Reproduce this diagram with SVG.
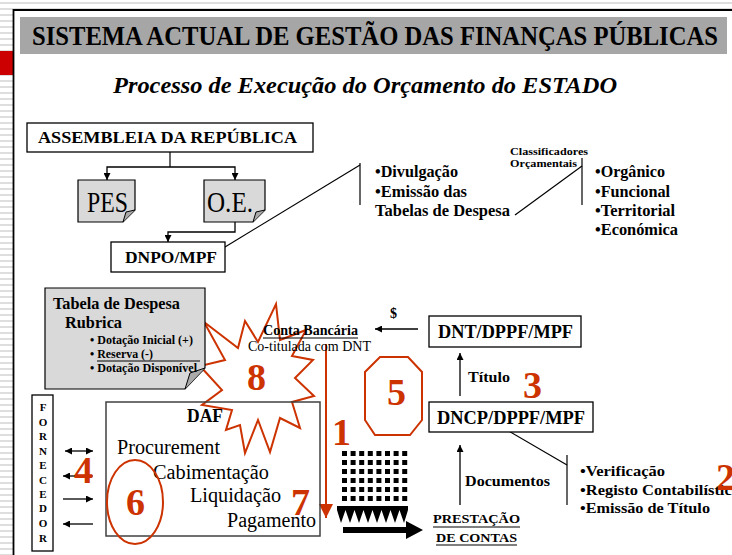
<svg xmlns="http://www.w3.org/2000/svg" width="732" height="555" viewBox="0 0 732 555">
<defs>
  <pattern id="stripes" width="8" height="6" patternUnits="userSpaceOnUse">
    <rect width="8" height="6" fill="#ffffff"/>
    <rect y="2" width="8" height="2" fill="#dedede"/>
  </pattern>
  <marker id="ah" viewBox="0 0 10 10" refX="10" refY="5" markerWidth="7" markerHeight="7" markerUnits="userSpaceOnUse" orient="auto-start-reverse">
    <path d="M0,0 L10,5 L0,10 z" fill="#000"/>
  </marker>
  <marker id="ahr" viewBox="0 0 10 10" refX="10" refY="5" markerWidth="15" markerHeight="14" markerUnits="userSpaceOnUse" orient="auto">
    <path d="M0,0 L10,5 L0,10 z" fill="#cc3300"/>
  </marker>
</defs>
<style>
  text { font-family: "Liberation Serif", "Times New Roman", serif; fill: #000; }
  .b { font-weight: bold; }
  .box { fill: #fff; stroke: #000; stroke-width: 1.3; }
  .note { fill: #d9d9d9; stroke: #000; stroke-width: 1.2; }
  .ln { fill: none; stroke: #000; stroke-width: 1.2; }
  .red { fill: #cc3300; font-weight: bold; font-size: 38px; }
  .redl { fill: none; stroke: #cc3300; stroke-width: 2; }
  .arr { fill: none; stroke: #000; stroke-width: 1.3; marker-end: url(#ah); }
</style>

<!-- background frame -->
<rect x="0" y="0" width="732" height="555" fill="#fff"/>
<rect x="0" y="0" width="13" height="555" fill="url(#stripes)"/>
<rect x="13" y="0" width="719" height="9" fill="url(#stripes)"/>
<rect x="0" y="51" width="13" height="24" fill="#cc0000"/>
<line x1="13.5" y1="9" x2="13.5" y2="555" stroke="#000" stroke-width="1.8"/>
<line x1="13" y1="10" x2="732" y2="10" stroke="#000" stroke-width="2"/>

<g id="title">
  <rect x="20" y="17" width="707" height="37" fill="#a6a6a6"/>
  <text x="32" y="45" class="b" font-size="27" textLength="686" lengthAdjust="spacingAndGlyphs">SISTEMA ACTUAL DE GESTÃO DAS FINANÇAS PÚBLICAS</text>
</g>
<g id="subtitle">
  <text x="113" y="93" class="b" font-style="italic" font-size="24" textLength="504" lengthAdjust="spacingAndGlyphs">Processo de Execução do Orçamento do ESTADO</text>
</g>

<!-- starburst 8 -->
<g id="n8">
  <polygon class="redl" fill="#fff" style="fill:#fff" points="204,322 238,348 245,321 258,342 276,304 280,340 306,330 292,356 313,360 295,378 314,396 292,402 300,428 280,418 270,452 258,420 245,453 240,425 226,430 232,410 202,405 222,390 200,366 225,360"/>
  <text x="247" y="390" class="red">8</text>
</g>

<g id="connectors">
  <polyline class="ln" points="170,152 170,167"/>
  <polyline class="arr" points="170,167 107,167 107,180"/>
  <polyline class="arr" points="170,167 235,167 235,180"/>
  <polyline class="arr" points="235,222 235,232 168,232 168,242"/>
  <line class="ln" x1="225" y1="247" x2="360" y2="165"/>
  <line class="ln" x1="360" y1="163" x2="360" y2="205"/>
  <line class="ln" x1="515" y1="215" x2="582" y2="166"/>
  <line class="ln" x1="582" y1="158" x2="582" y2="205"/>
  <line class="arr" x1="418" y1="329" x2="375" y2="329"/>
  <line class="arr" x1="460" y1="396" x2="460" y2="353"/>
  <line class="arr" x1="460" y1="505" x2="460" y2="445"/>
  <line class="ln" x1="507" y1="430" x2="567" y2="465"/>
  <line class="ln" x1="567" y1="455" x2="567" y2="505"/>
  <line x1="326" y1="344" x2="326" y2="518" stroke="#cc3300" stroke-width="2" marker-end="url(#ahr)"/>
  <line class="arr" x1="65" y1="451" x2="93" y2="451" style="marker-start:url(#ah)"/>
  <line class="arr" x1="93" y1="476" x2="63" y2="476"/>
  <line class="arr" x1="63" y1="499" x2="93" y2="499"/>
  <line class="arr" x1="93" y1="524" x2="63" y2="524"/>
</g>

<g id="assembleia">
  <rect class="box" x="27" y="123" width="286" height="29"/>
  <text x="38" y="143" class="b" font-size="17" textLength="259" lengthAdjust="spacingAndGlyphs">ASSEMBLEIA DA REPÚBLICA</text>
</g>
<g id="pes">
  <path class="note" d="M78,180 H135 V210 L123,222 H78 Z"/>
  <path d="M123,222 L126,212 L135,210" fill="#aaa" stroke="#000" stroke-width="1"/>
  <text x="87" y="212" font-size="30" textLength="41" lengthAdjust="spacingAndGlyphs">PES</text>
</g>
<g id="oe">
  <path class="note" d="M204,180 H265 V210 L253,222 H204 Z"/>
  <path d="M253,222 L256,212 L265,210" fill="#aaa" stroke="#000" stroke-width="1"/>
  <text x="207" y="212" font-size="30" textLength="46" lengthAdjust="spacingAndGlyphs">O.E.</text>
</g>
<g id="dnpo">
  <rect class="box" x="111" y="242" width="114" height="30"/>
  <text x="125" y="263" class="b" font-size="17" textLength="92" lengthAdjust="spacingAndGlyphs">DNPO/MPF</text>
</g>
<g id="divulgacao">
  <text x="375" y="177" class="b" font-size="17" textLength="83" lengthAdjust="spacingAndGlyphs">•Divulgação</text>
  <text x="375" y="197" class="b" font-size="17" textLength="92" lengthAdjust="spacingAndGlyphs">•Emissão das</text>
  <text x="375" y="216" class="b" font-size="17" textLength="135" lengthAdjust="spacingAndGlyphs">Tabelas de Despesa</text>
</g>
<g id="classificadores">
  <text x="510" y="155" class="b" font-size="11" textLength="78" lengthAdjust="spacingAndGlyphs">Classificadores</text>
  <text x="510" y="167" class="b" font-size="11" textLength="67" lengthAdjust="spacingAndGlyphs">Orçamentais</text>
  <text x="595" y="177" class="b" font-size="17" textLength="70" lengthAdjust="spacingAndGlyphs">•Orgânico</text>
  <text x="595" y="197" class="b" font-size="17" textLength="75" lengthAdjust="spacingAndGlyphs">•Funcional</text>
  <text x="595" y="216" class="b" font-size="17" textLength="80" lengthAdjust="spacingAndGlyphs">•Territorial</text>
  <text x="595" y="235" class="b" font-size="17" textLength="83" lengthAdjust="spacingAndGlyphs">•Económica</text>
</g>

<g id="tabela">
  <path class="note" d="M45,288 H205 V368 L185,389 H45 Z"/>
  <path d="M185,389 L190,373 L205,368" fill="#aaa" stroke="#000" stroke-width="1"/>
  <text x="53" y="309" class="b" font-size="17" textLength="127" lengthAdjust="spacingAndGlyphs">Tabela de Despesa</text>
  <text x="65" y="328" class="b" font-size="17" textLength="57" lengthAdjust="spacingAndGlyphs">Rubrica</text>
  <text x="90" y="344" class="b" font-size="12" textLength="103" lengthAdjust="spacingAndGlyphs">• Dotação Inicial (+)</text>
  <text x="90" y="358" class="b" font-size="12" textLength="63" lengthAdjust="spacingAndGlyphs">• Reserva (-)</text>
  <line x1="97" y1="361" x2="200" y2="361" stroke="#000" stroke-width="1"/>
  <text x="90" y="372" class="b" font-size="12" textLength="107" lengthAdjust="spacingAndGlyphs">• Dotação Disponível</text>
</g>

<g id="conta">
  <text x="263" y="335" class="b" font-size="15" textLength="95" lengthAdjust="spacingAndGlyphs">Conta Bancária</text>
  <line x1="263" y1="338" x2="358" y2="338" stroke="#000" stroke-width="1.2"/>
  <text x="248" y="351" font-size="15" textLength="123" lengthAdjust="spacingAndGlyphs">Co-titulada com DNT</text>
  <text x="390" y="318" class="b" font-size="14">$</text>
</g>

<g id="dnt">
  <rect class="box" x="429" y="316" width="152" height="31"/>
  <text x="438" y="338" class="b" font-size="18" textLength="135" lengthAdjust="spacingAndGlyphs">DNT/DPPF/MPF</text>
</g>
<g id="titulo">
  <text x="468" y="382" class="b" font-size="15" textLength="42" lengthAdjust="spacingAndGlyphs">Título</text>
  <text x="523" y="398" class="red">3</text>
</g>
<g id="dncp">
  <rect class="box" x="429" y="402" width="164" height="30"/>
  <text x="437" y="424" class="b" font-size="18" textLength="148" lengthAdjust="spacingAndGlyphs">DNCP/DPPF/MPF</text>
</g>
<g id="n5">
  <polygon class="redl" points="380,357 408,357 422,372 422,420 410,435 375,435 365,420 365,372"/>
  <text x="387" y="405" class="red">5</text>
</g>
<g id="documentos">
  <text x="465" y="486" class="b" font-size="15" textLength="85" lengthAdjust="spacingAndGlyphs">Documentos</text>
</g>
<g id="verificacao">
  <text x="580" y="476" class="b" font-size="15" textLength="85" lengthAdjust="spacingAndGlyphs">•Verificação</text>
  <text x="580" y="495" class="b" font-size="15" textLength="160" lengthAdjust="spacingAndGlyphs">•Registo Contabilístico</text>
  <text x="580" y="513" class="b" font-size="15" textLength="130" lengthAdjust="spacingAndGlyphs">•Emissão de Título</text>
  <text x="716" y="490" class="red">2</text>
</g>
<g id="prestacao">
  <text x="433" y="523" class="b" font-size="13" textLength="87" lengthAdjust="spacingAndGlyphs">PRESTAÇÃO</text>
  <line x1="433" y1="527" x2="520" y2="527" stroke="#000" stroke-width="1.2"/>
  <text x="436" y="542" class="b" font-size="13" textLength="81" lengthAdjust="spacingAndGlyphs">DE CONTAS</text>
  <line x1="436" y1="545" x2="517" y2="545" stroke="#000" stroke-width="1.2"/>
</g>

<g id="n1">
  <text x="332" y="445" class="red">1</text>
</g>

<g id="doc-stack">
  <g fill="#000">
    <rect x="342" y="451" width="5" height="5"/><rect x="350.6" y="451" width="5" height="5"/><rect x="359.2" y="451" width="5" height="5"/><rect x="367.8" y="451" width="5" height="5"/><rect x="376.4" y="451" width="5" height="5"/><rect x="385" y="451" width="5" height="5"/><rect x="393.6" y="451" width="5" height="5"/><rect x="402.2" y="451" width="5" height="5"/>
    <rect x="342" y="460" width="5" height="5"/><rect x="350.6" y="460" width="5" height="5"/><rect x="359.2" y="460" width="5" height="5"/><rect x="367.8" y="460" width="5" height="5"/><rect x="376.4" y="460" width="5" height="5"/><rect x="385" y="460" width="5" height="5"/><rect x="393.6" y="460" width="5" height="5"/><rect x="402.2" y="460" width="5" height="5"/>
    <rect x="342" y="469" width="5" height="5"/><rect x="350.6" y="469" width="5" height="5"/><rect x="359.2" y="469" width="5" height="5"/><rect x="367.8" y="469" width="5" height="5"/><rect x="376.4" y="469" width="5" height="5"/><rect x="385" y="469" width="5" height="5"/><rect x="393.6" y="469" width="5" height="5"/><rect x="402.2" y="469" width="5" height="5"/>
    <rect x="342" y="478" width="5" height="5"/><rect x="350.6" y="478" width="5" height="5"/><rect x="359.2" y="478" width="5" height="5"/><rect x="367.8" y="478" width="5" height="5"/><rect x="376.4" y="478" width="5" height="5"/><rect x="385" y="478" width="5" height="5"/><rect x="393.6" y="478" width="5" height="5"/><rect x="402.2" y="478" width="5" height="5"/>
    <rect x="342" y="487" width="5" height="5"/><rect x="350.6" y="487" width="5" height="5"/><rect x="359.2" y="487" width="5" height="5"/><rect x="367.8" y="487" width="5" height="5"/><rect x="376.4" y="487" width="5" height="5"/><rect x="385" y="487" width="5" height="5"/><rect x="393.6" y="487" width="5" height="5"/><rect x="402.2" y="487" width="5" height="5"/>
    <rect x="342" y="496" width="5" height="5"/><rect x="350.6" y="496" width="5" height="5"/><rect x="359.2" y="496" width="5" height="5"/><rect x="367.8" y="496" width="5" height="5"/><rect x="376.4" y="496" width="5" height="5"/><rect x="385" y="496" width="5" height="5"/><rect x="393.6" y="496" width="5" height="5"/><rect x="402.2" y="496" width="5" height="5"/>
    <path d="M337,506 H408 V510 L404,523 L399.5,510 L395,523 L390.5,510 L386,523 L381.5,510 L377,523 L372.5,510 L368,523 L363.5,510 L359,523 L354.5,510 L350,523 L345.5,510 L341,523 L337,510 Z"/>
    <path d="M343,527 H406 V521 L423,530 L406,539 V533 H343 Z"/>
  </g>
</g>

<g id="daf">
  <rect x="106" y="402" width="214" height="134" fill="none" stroke="#404040" stroke-width="1.5"/>
  <text x="187" y="422" class="b" font-size="18" textLength="36" lengthAdjust="spacingAndGlyphs">DAF</text>
  <text x="117" y="454" font-size="20" textLength="103" lengthAdjust="spacingAndGlyphs">Procurement</text>
  <text x="153" y="479" font-size="20" textLength="116" lengthAdjust="spacingAndGlyphs">Cabimentação</text>
  <text x="190" y="502" font-size="20" textLength="91" lengthAdjust="spacingAndGlyphs">Liquidação</text>
  <text x="227" y="527" font-size="20" textLength="89" lengthAdjust="spacingAndGlyphs">Pagamento</text>
</g>
<g id="n7">
  <text x="291" y="515" class="red">7</text>
</g>
<g id="n6">
  <ellipse class="redl" cx="135" cy="502" rx="28" ry="42"/>
  <text x="126" y="515" class="red">6</text>
</g>
<g id="n4">
  <text x="74" y="483" class="red">4</text>
</g>

<g id="fornecedor">
  <rect class="box" x="32" y="395" width="21" height="156" stroke-width="1"/>
  <g class="b" font-size="11" text-anchor="middle">
    <text x="43" y="411">F</text>
    <text x="43" y="426">O</text>
    <text x="43" y="440">R</text>
    <text x="43" y="455">N</text>
    <text x="43" y="469">E</text>
    <text x="43" y="484">C</text>
    <text x="43" y="498">E</text>
    <text x="43" y="512">D</text>
    <text x="43" y="527">O</text>
    <text x="43" y="542">R</text>
  </g>
</g>
</svg>
